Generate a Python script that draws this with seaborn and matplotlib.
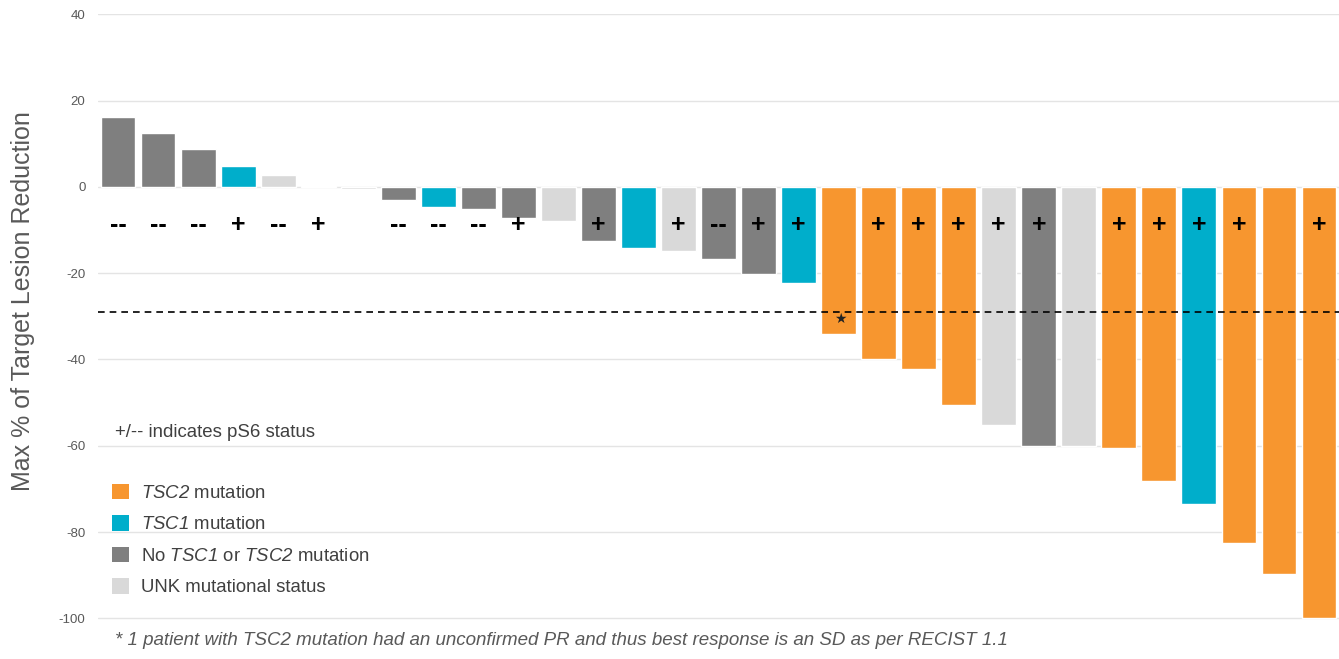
import pandas as pd
import matplotlib
matplotlib.use("Agg")
import matplotlib.pyplot as plt
import seaborn as sns
from matplotlib.patches import Patch

#bar values, left to right
reduction = [16.2, 12.5, 8.8, 4.9, 2.8, 0.3, -0.6, -3.1, -4.6, -5.2, -7.3, -7.8,
             -12.5, -14.2, -14.8, -16.8, -20.2, -22.2, -34.2, -39.8, -42.1, -50.6,
             -55.1, -60.0, -60.0, -60.5, -68.1, -73.5, -82.5, -89.7, -100.0]
status = ["none", "none", "none", "tsc1", "unk", "unk", "unk", "none", "tsc1", "none",
          "none", "unk", "none", "tsc1", "unk", "none", "none", "tsc1", "tsc2", "tsc2",
          "tsc2", "tsc2", "unk", "none", "unk", "tsc2", "tsc2", "tsc1", "tsc2", "tsc2",
          "tsc2"]
ps6 = ["--", "--", "--", "+", "--", "+", "", "--", "--", "--", "+", "", "+", "", "+",
       "--", "+", "+", "", "+", "+", "+", "+", "+", "", "+", "+", "+", "+", "", "+"]
starred = [18]  #bar index with the unconfirmed PR

status_colors = {"tsc2": "#F7962F", "tsc1": "#00AECB", "none": "#7F7F7F", "unk": "#D9D9D9"}
legend_order = ["tsc2", "tsc1", "none", "unk"]
legend_labels = [r"$TSC2$ mutation", r"$TSC1$ mutation",
                 r"No $TSC1$ or $TSC2$ mutation", "UNK mutational status"]

yticks = [40, 20, 0, -20, -40, -60, -80, -100]
threshold = -29

df = pd.DataFrame({"patient": [str(i) for i in range(len(reduction))],
                   "reduction": reduction, "status": status})

sns.set_style("white")
plt.rcParams["font.family"] = ["Liberation Sans", "DejaVu Sans"]
plt.rcParams["axes.unicode_minus"] = False
#math text is only used for the italic gene names
plt.rcParams["mathtext.fontset"] = "custom"
plt.rcParams["mathtext.it"] = "Liberation Sans:italic"
plt.rcParams["mathtext.rm"] = "Liberation Sans:italic"

fig = plt.figure(figsize=(13.39, 6.59), dpi=100)
ax = fig.add_axes([0.0732, 0.0595, 0.9268, 0.919])

sns.barplot(data=df, x="patient", y="reduction", hue="status", palette=status_colors,
            dodge=False, width=0.87, legend=False, ax=ax, saturation=1)

ax.set_ylim(-100.3, 40)
ax.set_yticks(yticks)
ax.grid(True, axis="y", color="#E4E4E4", linewidth=1)
ax.set_axisbelow(True)
for s in ax.spines.values():
    s.set_visible(False)
ax.set_xticks([])
ax.set_xlabel("")
ax.set_ylabel("Max % of Target Lesion Reduction", fontsize=18, color="#595959")
ax.yaxis.set_label_coords(-0.051, 0.527)
ax.tick_params(axis="y", length=0, pad=9, labelsize=9.5, labelcolor="#595959")

#response threshold
ax.axhline(threshold, color="black", linestyle=(0, (4, 3)), linewidth=1.2)

#pS6 status signs
for i, sign in enumerate(ps6):
    if sign:
        ax.text(i, -8.8, sign, ha="center", va="center", fontsize=18,
                fontweight="bold", color="black")
for i in starred:
    ax.text(i + 0.05, -30.6, "\u2605", ha="center", va="center", fontsize=10,
            color="#222222", family="DejaVu Sans")

fig.text(0.086, 0.344, "+/-- indicates pS6 status", fontsize=13.4, color="#404040",
         va="center")

handles = [Patch(facecolor=status_colors[k], edgecolor="none") for k in legend_order]
fig.legend(handles, legend_labels, loc="upper left", bbox_to_anchor=(0.084, 0.266),
           frameon=False, fontsize=13.4, handlelength=0.9, handleheight=0.9,
           labelspacing=0.72, handletextpad=0.65, labelcolor="#404040",
           borderaxespad=0, borderpad=0)

fig.text(0.086, 0.028, "* 1 patient with TSC2 mutation had an unconfirmed PR and thus "
         "best response is an SD as per RECIST 1.1", fontsize=13.5, style="italic",
         color="#595959", va="center")

fig.savefig("out.png", dpi=100)
